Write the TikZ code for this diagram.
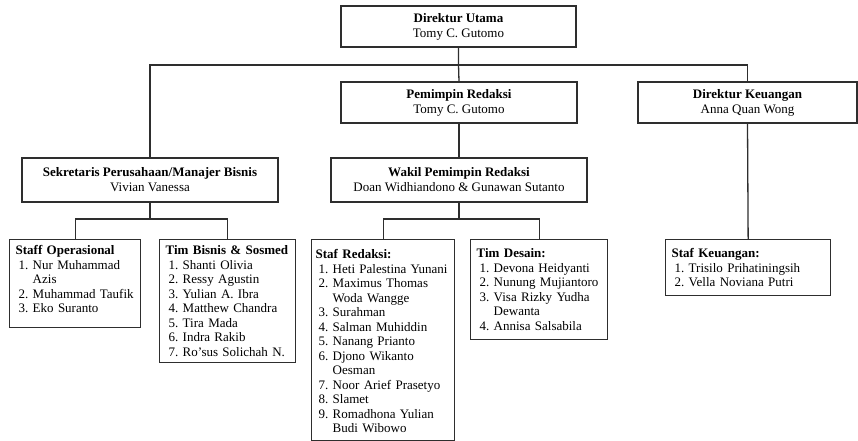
\documentclass[tikz,border=0pt]{standalone}
\usepackage{fontspec}
\setmainfont{Liberation Serif}
\usepackage{xcolor}
\definecolor{linegray}{HTML}{2E2E2E}

% one numbered name in a staff list
\newcommand{\entry}[2]{\mbox{\hspace*{3pt}\makebox[9.75pt][l]{#1}\ #2}}

\begin{document}
\begin{tikzpicture}[x=1pt, y=-1pt, font=\fontsize{13}{15}\selectfont,
  headbox/.style={draw=linegray, line width=1.3pt, align=center, inner sep=2pt},
  listbox/.style={draw=linegray, line width=1.3pt, anchor=north west, inner xsep=6pt,
    inner ysep=0pt, align=left, text height=15pt, font=\fontsize{13}{14.5}\selectfont},
  link/.style={linegray, line width=1.3pt}]

\useasboundingbox (0,0) rectangle (858,441);

% Directors
\node[headbox, minimum width=235pt, minimum height=41pt] (utama) at (458.5,26.5)
  {\textbf{Direktur Utama}\\Tomy C. Gutomo};
\node[headbox, minimum width=236pt, minimum height=41pt] (pemimpin) at (459,102.5)
  {\textbf{Pemimpin Redaksi}\\Tomy C. Gutomo};
\node[headbox, minimum width=219pt, minimum height=41pt] (keuangan) at (747.5,102.5)
  {\textbf{Direktur Keuangan}\\Anna Quan Wong};

% Second level
\node[headbox, minimum width=256pt, minimum height=44pt] (sekretaris) at (150,180)
  {\textbf{Sekretaris Perusahaan/Manajer Bisnis}\\Vivian Vanessa};
\node[headbox, minimum width=256pt, minimum height=44pt] (wakil) at (459,180)
  {\textbf{Wakil Pemimpin Redaksi}\\Doan Widhiandono \& Gunawan Sutanto};

% Staff lists
\node[listbox, text width=119pt, text depth=73pt] (staffops) at (9,239)
  {\textbf{Staff Operasional}\\
   \entry{1.}{Nur Muhammad}\\
   \entry{}{Azis}\\
   \entry{2.}{Muhammad Taufik}\\
   \entry{3.}{Eko Suranto}};
\node[listbox, text width=124pt, text depth=108pt] (timbisnis) at (159,239)
  {\textbf{Tim Bisnis \& Sosmed}\\
   \entry{1.}{Shanti Olivia}\\
   \entry{2.}{Ressy Agustin}\\
   \entry{3.}{Yulian A. Ibra}\\
   \entry{4.}{Matthew Chandra}\\
   \entry{5.}{Tira Mada}\\
   \entry{6.}{Indra Rakib}\\
   \entry{7.}{Ro'sus Solichah N.}};
\node[listbox, inner xsep=4pt, text width=135pt, text height=19pt, text depth=182pt]
  (stafredaksi) at (311,239)
  {\textbf{Staf Redaksi:}\\
   \entry{1.}{Heti Palestina Yunani}\\
   \entry{2.}{Maximus Thomas}\\
   \entry{}{Woda Wangge}\\
   \entry{3.}{Surahman}\\
   \entry{4.}{Salman Muhiddin}\\
   \entry{5.}{Nanang Prianto}\\
   \entry{6.}{Djono Wikanto}\\
   \entry{}{Oesman}\\
   \entry{7.}{Noor Arief Prasetyo}\\
   \entry{8.}{Slamet}\\
   \entry{9.}{Romadhona Yulian}\\
   \entry{}{Budi Wibowo}};
\node[listbox, text width=125pt, text height=18pt, text depth=82pt] (timdesain) at (470,239)
  {\textbf{Tim Desain:}\\
   \entry{1.}{Devona Heidyanti}\\
   \entry{2.}{Nunung Mujiantoro}\\
   \entry{3.}{Visa Rizky Yudha}\\
   \entry{}{Dewanta}\\
   \entry{4.}{Annisa Salsabila}};
\node[listbox, text width=153pt, text height=18pt, text depth=38pt] (stafkeu) at (665,239)
  {\textbf{Staf Keuangan:}\\
   \entry{1.}{Trisilo Prihatiningsih}\\
   \entry{2.}{Vella Noviana Putri}};

% Connectors
\coordinate (bustop) at (458.5,65);
\coordinate (busleft) at (150,219);
\coordinate (busmid) at (459,219);
\draw[link] (utama.south) -- (bustop) -- (pemimpin.north);
\draw[link] (sekretaris.north) |- (bustop) -| (keuangan.north);
\draw[link] (pemimpin.south) -- (wakil.north);
\draw[link] (sekretaris.south) -- (busleft);
\draw[link] (staffops.north) |- (busleft) -| (timbisnis.north);
\draw[link] (wakil.south) -- (busmid);
\draw[link] (stafredaksi.north) |- (busmid) -| (timdesain.north);
\draw[link] (keuangan.south) -- (stafkeu.north);

\end{tikzpicture}
\end{document}
